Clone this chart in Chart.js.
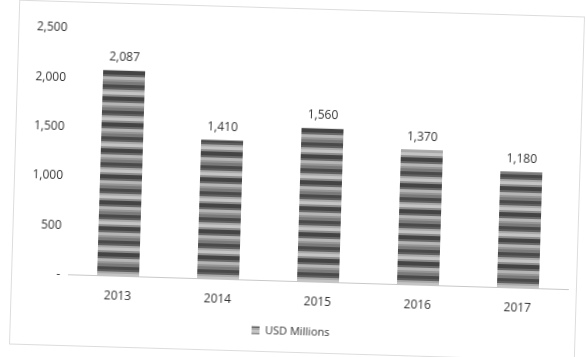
<!DOCTYPE html>
<html>
<head>
<meta charset="utf-8">
<script src="https://cdn.jsdelivr.net/npm/chart.js@4.4.0/dist/chart.umd.min.js"></script>
<style>
  html, body { margin: 0; padding: 0; background: #fff; }
  #page { width: 586px; height: 357px; position: relative; overflow: hidden; }
  #frame {
    position: absolute; left: 14px; top: 8px; width: 566px; height: 345px;
    border: 1px solid #ddd; box-sizing: border-box;
    transform: rotate(1.7deg); transform-origin: 50% 50%;
  }
  #chart { display: block; }
</style>
</head>
<body>
<div id="page">
  <div id="frame"><canvas id="chart" width="564" height="343"></canvas></div>
</div>
<script>
// data
const years = ['2013', '2014', '2015', '2016', '2017'];
const usdMillions = [2087, 1410, 1560, 1370, 1180];
const yTicks = [0, 500, 1000, 1500, 2000, 2500];

// striped grey fill like the printed bars
function stripePattern(ctx) {
    let c = document.createElement('canvas');
    c.width = 8; c.height = 26;
    let p = c.getContext('2d');
    let bands = ['#7a7a7a', '#4a4a4a', '#606060', '#a8a8a8', '#c4c4c4', '#8c8c8c', '#444', '#6a6a6a', '#b5b5b5', '#959595'];
    let h = [3, 3, 2, 2, 3, 2, 4, 2, 3, 2];
    let y = 0;
    bands.forEach((col, i) => {
        p.fillStyle = col;
        p.fillRect(0, y, 8, h[i]);
        y += h[i];
    });
    return ctx.createPattern(c, 'repeat');
}

const valueLabels = {
    id: 'valueLabels',
    afterDatasetsDraw(chart) {
        let ctx = chart.ctx;
        let meta = chart.getDatasetMeta(0);
        ctx.save();
        ctx.font = '12px "Open Sans", sans-serif';
        ctx.fillStyle = '#333';
        ctx.textAlign = 'center';
        ctx.textBaseline = 'bottom';
        meta.data.forEach((bar, i) => {
            ctx.fillText(usdMillions[i].toLocaleString('en-US'), bar.x, bar.y - 7);
        });
        ctx.restore();
    }
};

let ctx = document.getElementById('chart').getContext('2d');
new Chart(ctx, {
    type: 'bar',
    data: {
        labels: years,
        datasets: [{
            label: 'USD Millions',
            data: usdMillions,
            backgroundColor: stripePattern(ctx),
            borderWidth: 0,
            barPercentage: 0.6,
            categoryPercentage: 0.7
        }]
    },
    options: {
        responsive: false,
        animation: false,
        layout: { padding: { left: 4, right: 8, top: 26, bottom: 5 } },
        plugins: {
            tooltip: { enabled: false },
            legend: {
                position: 'bottom',
                labels: {
                    boxWidth: 8,
                    boxHeight: 8,
                    padding: 4,
                    color: '#333',
                    font: { family: '"Open Sans", sans-serif', size: 11 }
                }
            }
        },
        scales: {
            x: {
                grid: { display: false, drawTicks: false },
                border: { color: '#c8c8c8' },
                ticks: {
                    color: '#333',
                    padding: 13,
                    font: { family: '"Open Sans", sans-serif', size: 12 }
                }
            },
            y: {
                min: 0,
                max: 2500,
                afterBuildTicks: axis => { axis.ticks = yTicks.map(v => ({ value: v })); },
                afterFit: axis => { axis.width = 52; },
                grid: { display: false, drawTicks: false },
                border: { display: false },
                ticks: {
                    color: '#333',
                    padding: 8,
                    font: { family: '"Open Sans", sans-serif', size: 12 },
                    callback: v => v === 0 ? '-' : v.toLocaleString('en-US')
                }
            }
        }
    },
    plugins: [valueLabels]
});
</script>
</body>
</html>
